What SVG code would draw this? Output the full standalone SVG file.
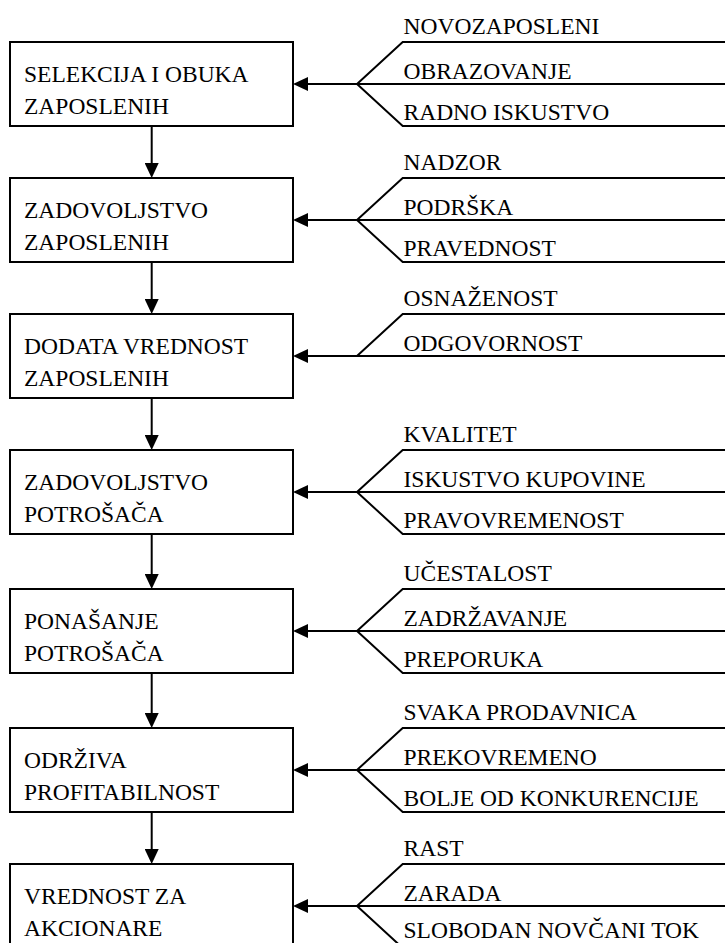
<svg xmlns="http://www.w3.org/2000/svg" width="725" height="943" viewBox="0 0 725 943">
<style>
  .box { fill: #ffffff; stroke: #000000; stroke-width: 2; }
  .t { font-family: "Liberation Serif", "Times New Roman", serif; font-size: 23.5px; fill: #000000; }
  .ln { fill: none; stroke: #000000; stroke-width: 2; }
  .arr { fill: none; stroke: #000000; stroke-width: 2; marker-end: url(#ah); }
</style>
<defs>
  <marker id="ah" markerUnits="userSpaceOnUse" markerWidth="16" markerHeight="14" refX="7" refY="7" orient="auto">
    <path d="M0,0 L15,7 L0,14 z" fill="#000000"/>
  </marker>
</defs>
<rect width="725" height="943" fill="#ffffff"/>

<g id="connectors">
  <line class="arr" x1="151.7" y1="126" x2="151.7" y2="170"/>
  <line class="arr" x1="151.7" y1="262" x2="151.7" y2="306"/>
  <line class="arr" x1="151.7" y1="398" x2="151.7" y2="442"/>
  <line class="arr" x1="151.7" y1="534" x2="151.7" y2="581"/>
  <line class="arr" x1="151.7" y1="673" x2="151.7" y2="720"/>
  <line class="arr" x1="151.7" y1="812" x2="151.7" y2="856"/>
  <line class="arr" x1="725" y1="84" x2="301" y2="84"/>
  <line class="arr" x1="725" y1="220" x2="301" y2="220"/>
  <line class="arr" x1="725" y1="356" x2="301" y2="356"/>
  <line class="arr" x1="725" y1="492" x2="301" y2="492"/>
  <line class="arr" x1="725" y1="631" x2="301" y2="631"/>
  <line class="arr" x1="725" y1="770" x2="301" y2="770"/>
  <line class="arr" x1="725" y1="906" x2="301" y2="906"/>
  <polyline class="ln" points="725,42 402.7,42 357,84 402.7,126 725,126"/>
  <polyline class="ln" points="725,178 402.7,178 357,220 402.7,262 725,262"/>
  <polyline class="ln" points="725,314 402.7,314 357,356"/>
  <polyline class="ln" points="725,450 402.7,450 357,492 402.7,534 725,534"/>
  <polyline class="ln" points="725,589 402.7,589 357,631 402.7,673 725,673"/>
  <polyline class="ln" points="725,728 402.7,728 357,770 402.7,812 725,812"/>
  <polyline class="ln" points="725,864 402.7,864 357,906 402.7,948 725,948"/>
</g>

<g id="node-selekcija">
  <rect class="box" x="10" y="42" width="283" height="84"/>
  <text class="t" x="24" y="81.5">SELEKCIJA I OBUKA</text>
  <text class="t" x="24" y="114">ZAPOSLENIH</text>
</g>
<g id="node-zadovoljstvo-zaposlenih">
  <rect class="box" x="10" y="178" width="283" height="84"/>
  <text class="t" x="24" y="217.5">ZADOVOLJSTVO</text>
  <text class="t" x="24" y="250">ZAPOSLENIH</text>
</g>
<g id="node-dodata-vrednost">
  <rect class="box" x="10" y="314" width="283" height="84"/>
  <text class="t" x="24" y="353.5">DODATA VREDNOST</text>
  <text class="t" x="24" y="386">ZAPOSLENIH</text>
</g>
<g id="node-zadovoljstvo-potrosaca">
  <rect class="box" x="10" y="450" width="283" height="84"/>
  <text class="t" x="24" y="489.5">ZADOVOLJSTVO</text>
  <text class="t" x="24" y="522">POTROŠAČA</text>
</g>
<g id="node-ponasanje">
  <rect class="box" x="10" y="589" width="283" height="84"/>
  <text class="t" x="24" y="628.5">PONAŠANJE</text>
  <text class="t" x="24" y="661">POTROŠAČA</text>
</g>
<g id="node-odrziva">
  <rect class="box" x="10" y="728" width="283" height="84"/>
  <text class="t" x="24" y="767.5">ODRŽIVA</text>
  <text class="t" x="24" y="800">PROFITABILNOST</text>
</g>
<g id="node-vrednost-akcionare">
  <rect class="box" x="10" y="864" width="283" height="84"/>
  <text class="t" x="24" y="903.5">VREDNOST ZA</text>
  <text class="t" x="24" y="936">AKCIONARE</text>
</g>

<g id="factors-selekcija">
  <text class="t" x="403.5" y="33.5">NOVOZAPOSLENI</text>
  <text class="t" x="403.5" y="79">OBRAZOVANJE</text>
  <text class="t" x="403.5" y="119.5">RADNO ISKUSTVO</text>
</g>
<g id="factors-zadovoljstvo-zaposlenih">
  <text class="t" x="403.5" y="169.5">NADZOR</text>
  <text class="t" x="403.5" y="215">PODRŠKA</text>
  <text class="t" x="403.5" y="255.5">PRAVEDNOST</text>
</g>
<g id="factors-dodata-vrednost">
  <text class="t" x="403.5" y="305.5">OSNAŽENOST</text>
  <text class="t" x="403.5" y="351">ODGOVORNOST</text>
</g>
<g id="factors-zadovoljstvo-potrosaca">
  <text class="t" x="403.5" y="441.5">KVALITET</text>
  <text class="t" x="403.5" y="487">ISKUSTVO KUPOVINE</text>
  <text class="t" x="403.5" y="527.5">PRAVOVREMENOST</text>
</g>
<g id="factors-ponasanje">
  <text class="t" x="403.5" y="580.5">UČESTALOST</text>
  <text class="t" x="403.5" y="626">ZADRŽAVANJE</text>
  <text class="t" x="403.5" y="666.5">PREPORUKA</text>
</g>
<g id="factors-odrziva">
  <text class="t" x="403.5" y="719.5">SVAKA PRODAVNICA</text>
  <text class="t" x="403.5" y="765">PREKOVREMENO</text>
  <text class="t" x="403.5" y="805.5">BOLJE OD KONKURENCIJE</text>
</g>
<g id="factors-vrednost-akcionare">
  <text class="t" x="403.5" y="855.5">RAST</text>
  <text class="t" x="403.5" y="901">ZARADA</text>
  <text class="t" x="403.5" y="938">SLOBODAN NOVČANI TOK</text>
</g>
</svg>
